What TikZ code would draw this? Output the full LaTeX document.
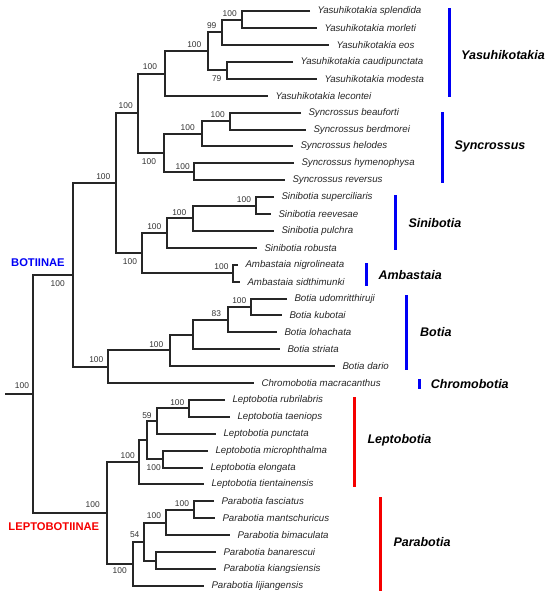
\documentclass[tikz,border=0pt]{standalone}
\usepackage{fontspec}
\setmainfont{Liberation Sans}
\definecolor{cblue}{RGB}{0,0,245}
\definecolor{cred}{RGB}{245,0,0}
\newcommand\ypos[1]{round(11.3+16.9*#1)}
\begin{document}
\begin{tikzpicture}[x=1pt,y=-1pt,
  br/.style={line width=2pt, draw=black!85, line join=miter},
  leaf/.style={anchor=west, inner sep=0pt, font=\fontsize{9.7}{11}\selectfont\itshape, text=black!85},
  bs/.style={inner sep=0pt, font=\fontsize{8.4}{10}\selectfont, text=black!80},
  clade/.style={anchor=west, inner sep=0pt, font=\fontsize{12.5}{14}\selectfont\bfseries\itshape, text=black},
  bar/.style={line width=3pt},
  sub/.style={anchor=west, inner sep=0pt, font=\fontsize{11.2}{13}\selectfont\bfseries}]
\useasboundingbox (0,0) rectangle (550,595);

% leaves
\foreach \i/\x/\name in {
 0/310/Yasuhikotakia splendida,
 1/317.3/Yasuhikotakia morleti,
 2/329.3/Yasuhikotakia eos,
 3/292.7/Yasuhikotakia caudipunctata,
 4/316.7/Yasuhikotakia modesta,
 5/268.3/Yasuhikotakia lecontei,
 6/300.5/Syncrossus beauforti,
 7/306/Syncrossus berdmorei,
 8/293/Syncrossus helodes,
 9/293.5/Syncrossus hymenophysa,
 10/285/Syncrossus reversus,
 11/274/Sinibotia superciliaris,
 12/270.7/Sinibotia reevesae,
 13/274/Sinibotia pulchra,
 14/256.7/Sinibotia robusta,
 15/238/Ambastaia nigrolineata,
 16/239.5/Ambastaia sidthimunki,
 17/287.3/Botia udomritthiruji,
 18/281.7/Botia kubotai,
 19/276.5/Botia lohachata,
 20/280/Botia striata,
 21/335/Botia dario,
 22/253.5/Chromobotia macracanthus,
 23/225/Leptobotia rubrilabris,
 24/230/Leptobotia taeniops,
 25/216/Leptobotia punctata,
 26/208/Leptobotia microphthalma,
 27/203.3/Leptobotia elongata,
 28/204/Leptobotia tientainensis,
 29/213.5/Parabotia fasciatus,
 30/215/Parabotia mantschuricus,
 31/230/Parabotia bimaculata,
 32/216/Parabotia banarescui,
 33/216/Parabotia kiangsiensis,
 34/204/Parabotia lijiangensis}{
  \coordinate (t\i) at ({round(\x)},{\ypos{\i}});
  \node[leaf] (n\i) at ([xshift=7.3pt]t\i) {\name};
}

% internal nodes
\coordinate (Y4) at (242,{\ypos{0.5}});
\coordinate (Y2) at (222,{\ypos{1.25}});
\coordinate (Y3) at (227,{\ypos{3.5}});
\coordinate (Y1) at (208,{\ypos{2.375}});
\coordinate (Y)  at (165,{\ypos{3.6875}});
\coordinate (S3) at (230,{\ypos{6.5}});
\coordinate (S1) at (202,{\ypos{7.25}});
\coordinate (S2) at (194,{\ypos{9.5}});
\coordinate (S)  at (164,{\ypos{8.375}});
\coordinate (YS) at (138,{\ypos{6.03125}});
\coordinate (Sb2) at (256,{\ypos{11.5}});
\coordinate (Sb1) at (193,{\ypos{12.25}});
\coordinate (Sb) at (167,{\ypos{13.125}});
\coordinate (Am) at (233,{\ypos{15.5}});
\coordinate (SA) at (142,{\ypos{14.3125}});
\coordinate (B1) at (116,{\ypos{10.171875}});
\coordinate (Bo3) at (251,{\ypos{17.5}});
\coordinate (Bo2) at (228,{\ypos{18.25}});
\coordinate (Bo1) at (193,{\ypos{19.125}});
\coordinate (Bo) at (170,{\ypos{20.0625}});
\coordinate (BC) at (108,{\ypos{21.03125}});
\coordinate (B)  at (73,{\ypos{15.6015625}});
\coordinate (Le4) at (189,{\ypos{23.5}});
\coordinate (Le2) at (157,{\ypos{24.25}});
\coordinate (Le3) at (163,{\ypos{26.5}});
\coordinate (Le1) at (147,{\ypos{25.375}});
\coordinate (Le) at (139,{\ypos{26.6875}});
\coordinate (Pa3) at (194,{\ypos{29.5}});
\coordinate (Pa2) at (166,{\ypos{30.25}});
\coordinate (Pa4) at (156,{\ypos{32.5}});
\coordinate (Pa1) at (144,{\ypos{31.375}});
\coordinate (Pa) at (133,{\ypos{32.6875}});
\coordinate (L)  at (107,{\ypos{29.6875}});
\coordinate (R)  at (33,{\ypos{22.644531}});
\coordinate (r0) at (5,{\ypos{22.644531}});

% branches
\draw[br] (r0) -- (R);
\foreach \p/\a/\b in {R/B/L, B/B1/BC, B1/YS/SA, YS/Y/S, Y/Y1/t5, Y1/Y2/Y3,
  Y2/Y4/t2, Y4/t0/t1, Y3/t3/t4, S/S1/S2, S1/S3/t8, S3/t6/t7, S2/t9/t10,
  SA/Sb/Am, Sb/Sb1/t14, Sb1/Sb2/t13, Sb2/t11/t12, Am/t15/t16,
  BC/Bo/t22, Bo/Bo1/t21, Bo1/Bo2/t20, Bo2/Bo3/t19, Bo3/t17/t18,
  L/Le/Pa, Le/Le1/t28, Le1/Le2/Le3, Le2/Le4/t25, Le4/t23/t24, Le3/t26/t27,
  Pa/Pa1/t34, Pa1/Pa2/Pa4, Pa2/Pa3/t31, Pa3/t29/t30, Pa4/t32/t33}{
  \draw[br] (\a) -| (\p) |- (\b);
}

% bootstrap values
\node[bs] (lR)   at (22,386) {100};
\node[bs] (lB)   at (57.7,284) {100};
\node[bs] (lB1)  at (103.3,176.7) {100};
\node[bs] (lYS)  at (125.7,106) {100};
\node[bs] (lY)   at (150,67) {100};
\node[bs] (lY1)  at (194.3,44.7) {100};
\node[bs] (lY2)  at (211.7,25.7) {99};
\node[bs] (lY4)  at (229.7,13.7) {100};
\node[bs] (lY3)  at (216.7,78.7) {79};
\node[bs] (lS1)  at (187.7,127.7) {100};
\node[bs] (lS3)  at (217.7,115) {100};
\node[bs] (lS2)  at (182.7,166.3) {100};
\node[bs] (lS)   at (149,161.7) {100};
\node[bs] (lSA)  at (130,261.7) {100};
\node[bs] (lSb)  at (154.3,226.7) {100};
\node[bs] (lSb1) at (179.3,212.3) {100};
\node[bs] (lSb2) at (244,200) {100};
\node[bs] (lAm)  at (221.5,267) {100};
\node[bs] (lBC)  at (96.3,360) {100};
\node[bs] (lBo)  at (156.3,344.3) {100};
\node[bs] (lBo2) at (216.3,313.3) {83};
\node[bs] (lBo3) at (239.3,301) {100};
\node[bs] (lL)   at (92.7,505) {100};
\node[bs] (lLe)  at (127.7,455.7) {100};
\node[bs] (lLe2) at (147,415.7) {59};
\node[bs] (lLe4) at (177.3,402.7) {100};
\node[bs] (lLe3) at (153.7,467.3) {100};
\node[bs] (lPa)  at (119.7,571) {100};
\node[bs] (lPa1) at (134.7,535) {54};
\node[bs] (lPa2) at (154,515.7) {100};
\node[bs] (lPa3) at (182,504) {100};

% clade bars and names
\draw[bar,cblue] (449.5,8) -- (449.5,97);
\node[clade] (cY) at (461,55) {Yasuhikotakia};
\draw[bar,cblue] (442.5,112) -- (442.5,183);
\node[clade] (cS) at (454.3,146.7) {Syncrossus};
\draw[bar,cblue] (395.5,195) -- (395.5,250);
\node[clade] (cSb) at (408.3,222.7) {Sinibotia};
\draw[bar,cblue] (366.5,263) -- (366.5,286);
\node[clade] (cAm) at (378.3,275) {Ambastaia};
\draw[bar,cblue] (406.5,295) -- (406.5,370);
\node[clade] (cBo) at (420,331.7) {Botia};
\draw[bar,cblue] (419.5,379) -- (419.5,389);
\node[clade] (cCh) at (430.7,384) {Chromobotia};
\draw[bar,cred] (354.5,397) -- (354.5,487);
\node[clade] (cLe) at (367.3,440) {Leptobotia};
\draw[bar,cred] (380.5,497) -- (380.5,591);
\node[clade] (cPa) at (393.3,541.7) {Parabotia};

% subfamilies
\node[sub,text=cblue] (sB) at (11,262.7) {BOTIINAE};
\node[sub,text=cred] (sL) at (8.3,526.7) {LEPTOBOTIINAE};
\end{tikzpicture}
\end{document}
